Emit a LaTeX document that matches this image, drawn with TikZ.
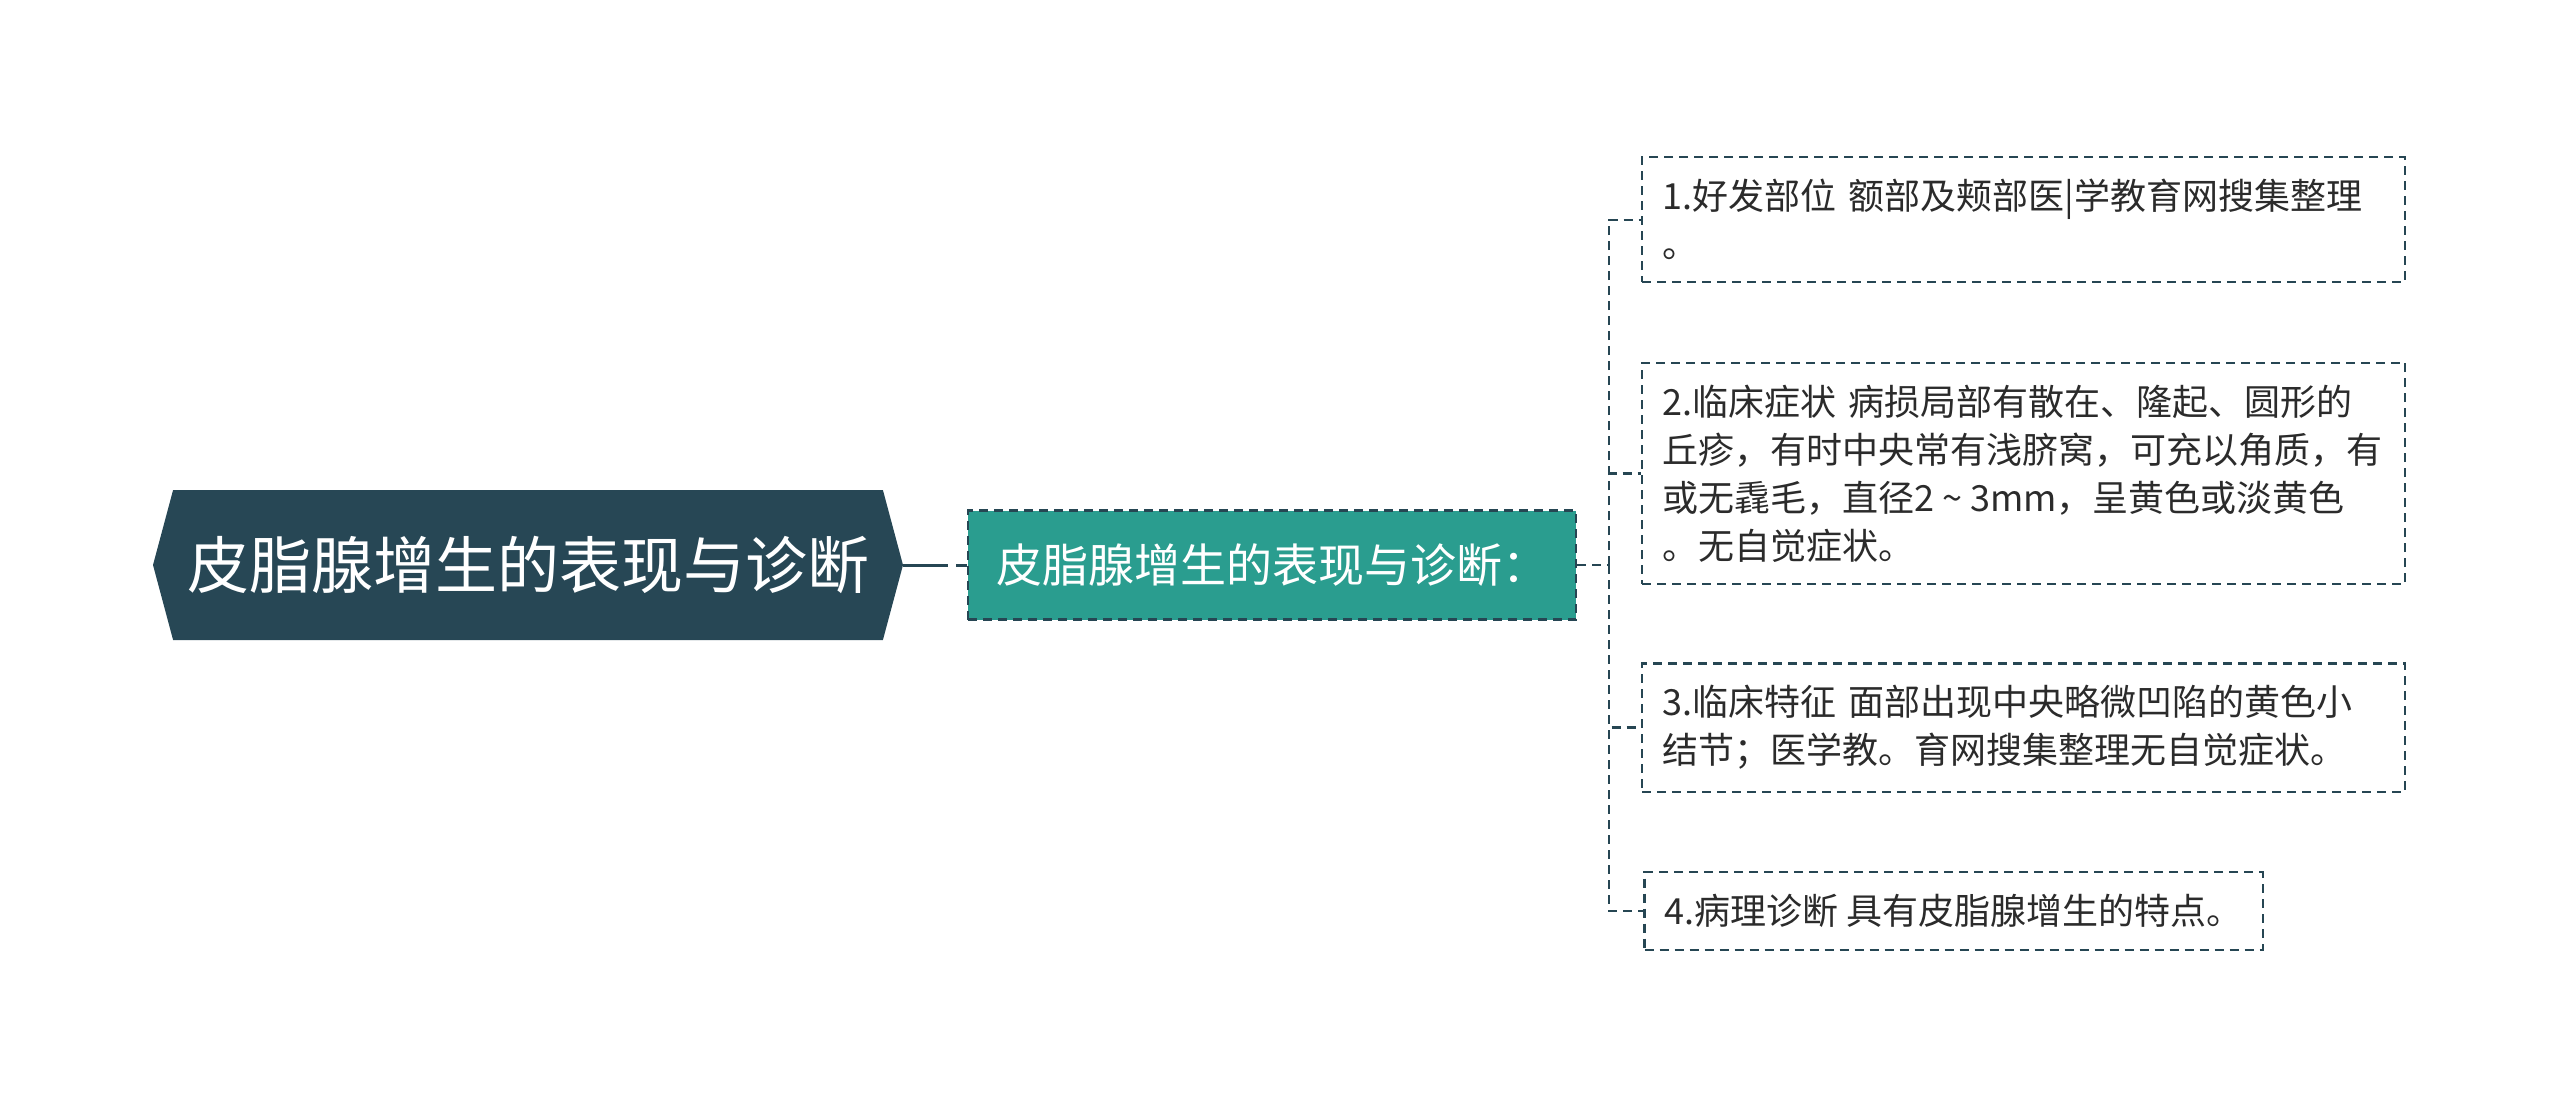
\documentclass[tikz,border=0pt]{standalone}
\usepackage{fontspec}
\setmainfont{Noto Sans CJK SC}
\usetikzlibrary{shapes.symbols}
\definecolor{rootcol}{HTML}{274755}
\definecolor{subcol}{HTML}{2A9D8F}
\definecolor{linecol}{HTML}{264653}
\definecolor{textcol}{HTML}{2B2B2B}
\tikzstyle{root} = [signal, signal to=west and east, signal pointer angle=150,
    fill=rootcol, text=white, minimum width=375pt, minimum height=75pt,
    font=\fontsize{31pt}{37pt}\selectfont]
\tikzstyle{sub} = [rectangle, draw=linecol, dash pattern=on 4.5pt off 3pt,
    line width=1.1pt, fill=subcol, text=white, minimum width=304pt,
    minimum height=54.5pt, font=\fontsize{23pt}{28pt}\selectfont]
\tikzstyle{leaf} = [rectangle, draw=linecol, dash pattern=on 4.5pt off 3pt,
    line width=1.1pt, text=textcol, align=left, inner xsep=10pt, inner ysep=11pt,
    font=\fontsize{18pt}{24pt}\selectfont]
\tikzstyle{wideleaf} = [leaf, text width=361.5pt]
\tikzstyle{link} = [draw=linecol, line width=1.1pt, dash pattern=on 4.5pt off 3pt]

\begin{document}
\begin{tikzpicture}[node distance=2cm]
    \useasboundingbox (0,0) rectangle (1280pt,-554.5pt);
    \node [root] at (264pt,-282.5pt) (root) {皮脂腺增生的表现与诊断};
    \node [sub, right of=root, node distance=372pt] (sub) {皮脂腺增生的表现与诊断：};
    \node [wideleaf, right of=sub, node distance=375.9pt, yshift=45.75pt] (box2)
        {2.临床症状 病损局部有散在、隆起、圆形的\\丘疹，有时中央常有浅脐窝，可充以角质，有\\或无毳毛，直径2\makebox[1em]{\textasciitilde}3mm，呈黄色或淡黄色\\。无自觉症状。};
    \node [wideleaf, above of=box2, node distance=126.95pt] (box1)
        {1.好发部位 额部及颊部医|学教育网搜集整理\\。};
    \node [wideleaf, below of=box2, node distance=127pt] (box3)
        {3.临床特征 面部出现中央略微凹陷的黄色小\\结节；医学教。育网搜集整理无自觉症状。};
    \node [leaf, below of=box3, node distance=91.75pt, xshift=-35.1pt] (box4)
        {4.病理诊断 具有皮脂腺增生的特点。};
    \coordinate (fork) at ([xshift=16pt]sub.east);
    \draw [link, line width=1.5pt, dash pattern=on 22.5pt off 4pt on 12pt] (root.east) -- (sub.west);
    \draw [link] (sub.east) -- (fork);
    \foreach \b in {box1,box2,box3,box4}
        \draw [link] (fork) |- (\b.west);
\end{tikzpicture}
\end{document}
